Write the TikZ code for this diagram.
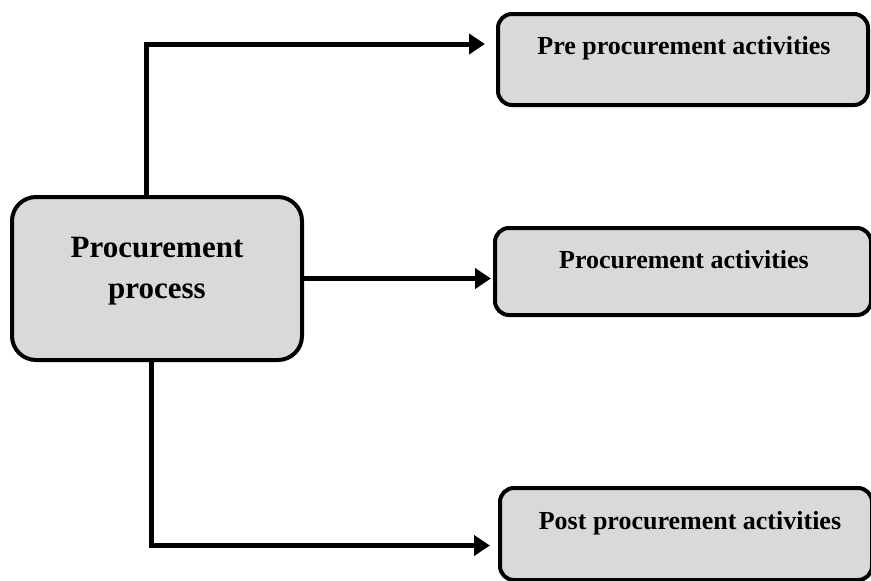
\documentclass[tikz,border=0pt]{standalone}
\usepackage{fontspec}
\setmainfont{Liberation Serif}
\usepackage{xcolor}
\usepackage{tikz}
\usetikzlibrary{calc,arrows.meta}
\definecolor{boxfill}{HTML}{D9D9D9}
\definecolor{edge}{HTML}{000000}
\tikzset{
  mainbox/.style={draw=edge, fill=boxfill, line width=4pt, rounded corners=24pt, minimum width=290pt, minimum height=163pt, inner sep=0pt},
  subbox/.style={draw=edge, fill=boxfill, line width=4pt, rounded corners=14pt, inner sep=0pt},
  maintxt/.style={text=edge, align=center, font=\bfseries\fontsize{31}{41}\selectfont},
  subtxt/.style={text=edge, font=\bfseries\fontsize{26}{30}\selectfont},
  link/.style={draw=edge, line width=5pt, line join=miter, -{Triangle[length=16pt,width=20pt]}},
}

\begin{document}
\begin{tikzpicture}[x=1pt,y=-1pt]
  \useasboundingbox (0,0) rectangle (871,581);
  \node[mainbox] (main) at (157,278.5) {};
  \node[subbox, minimum width=370pt, minimum height=91pt] (pre) at (683,59.5) {};
  \node[subbox, minimum width=376pt, minimum height=87pt] (mid) at (683,271.5) {};
  \node[subbox, minimum width=372pt, minimum height=92pt] (post) at (686,534) {};
  \node[maintxt] (maintext) at (157,271) {Procurement\\process};
  \node[subtxt, anchor=base] (pretxt) at (684,54) {Pre procurement activities};
  \node[subtxt, anchor=base] (midtxt) at (684,268) {Procurement activities};
  \node[subtxt, anchor=base] (posttxt) at (690,529) {Post procurement activities};
  \draw[link, shorten >=11pt] ([xshift=-11pt]main.north) |- ([yshift=15.5pt]pre.west);
  \draw[link, shorten >=2pt] (main.east) -- (main.east -| mid.west);
  \draw[link, shorten >=8pt] ([xshift=-5.5pt]main.south) |- ([yshift=-11.5pt]post.west);
\end{tikzpicture}
\end{document}
